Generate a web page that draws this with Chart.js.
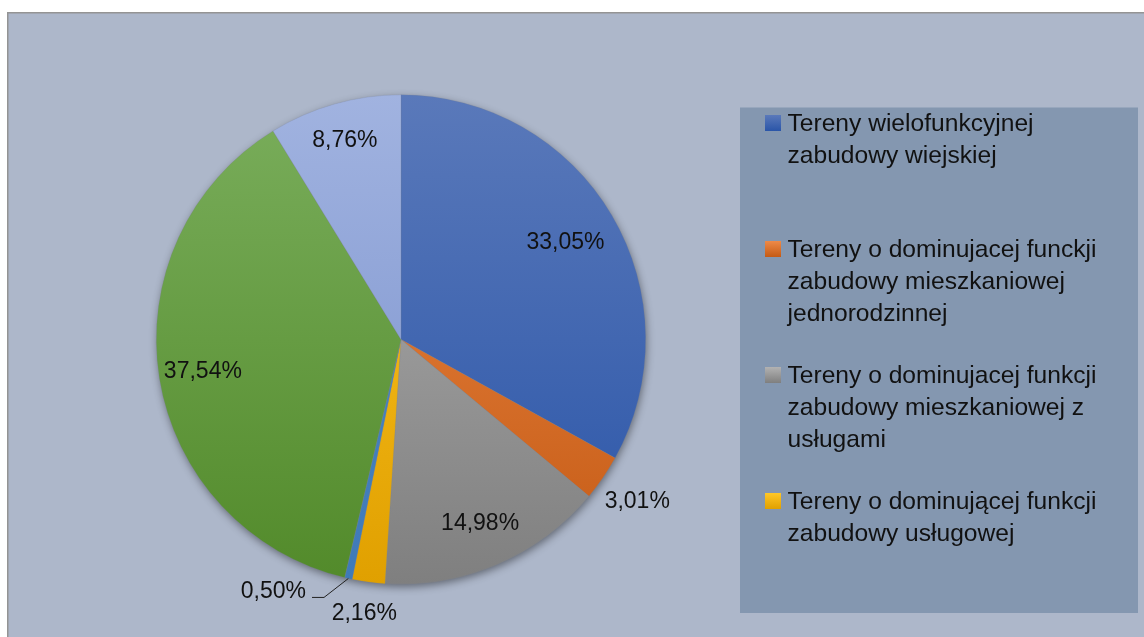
<!DOCTYPE html>
<html>
<head>
<meta charset="utf-8">
<script src="https://cdn.jsdelivr.net/npm/chart.js@4"></script>
<style>
  html, body { margin: 0; padding: 0; background: #ffffff; }
  #c { display: block; }
</style>
</head>
<body>
<canvas id="c" width="1144" height="637"></canvas>
<script>
// ---- data ----
const categories = [
  "Tereny wielofunkcyjnej zabudowy wiejskiej",
  "Tereny o dominujacej funckji zabudowy mieszkaniowej jednorodzinnej",
  "Tereny o dominujacej funkcji zabudowy mieszkaniowej z usługami",
  "Tereny o dominującej funkcji zabudowy usługowej",
  "",
  "",
  ""
];
const values = [33.05, 3.01, 14.98, 2.16, 0.50, 37.54, 8.76];
const valueLabels = ["33,05%", "3,01%", "14,98%", "2,16%", "0,50%", "37,54%", "8,76%"];

// ---- styles ----
const gradTop    = ["#5A79BA", "#EE8A48", "#B2B2B2", "#FFC727", "#4F8AC8", "#7AAE5C", "#A1B3E0"];
const gradBottom = ["#2A55A8", "#C45A14", "#7F7F7F", "#E0A000", "#3F7AB8", "#528A2A", "#7890CC"];
const labelRadius = [0.78, 1.17, 0.82, 1.13, 1.10, 0.82, 0.845];
const labelShiftDeg = [0, 0, 0, 0, 4.2, 0, 0];
const FONT = "Liberation Sans, Arial, sans-serif";

function polar(cx, cy, ang, r) { return [cx + Math.cos(ang) * r, cy + Math.sin(ang) * r]; }

const framePlugin = {
  id: 'frame',
  beforeDraw(chart) {
    const ctx = chart.ctx;
    ctx.save();
    ctx.fillStyle = '#ffffff';
    ctx.fillRect(0, 0, chart.width, chart.height);
    ctx.fillStyle = '#ADB7CA';
    ctx.fillRect(7, 12, chart.width, chart.height);
    ctx.strokeStyle = '#949494';
    ctx.lineWidth = 1.5;
    ctx.beginPath();
    ctx.moveTo(7.75, chart.height);
    ctx.lineTo(7.75, 12.75);
    ctx.lineTo(chart.width, 12.75);
    ctx.stroke();
    ctx.restore();
  },
  beforeDatasetsDraw(chart) {
    const arc = chart.getDatasetMeta(0).data[0];
    if (!arc) return;
    const ctx = chart.ctx;
    ctx.save();
    ctx.shadowColor = 'rgba(0,0,0,0.45)';
    ctx.shadowBlur = 9;
    ctx.shadowOffsetX = 1;
    ctx.shadowOffsetY = 3;
    ctx.fillStyle = '#8a8a8a';
    ctx.beginPath();
    ctx.arc(arc.x, arc.y, arc.outerRadius - 0.5, 0, Math.PI * 2);
    ctx.fill();
    ctx.restore();
  },
  afterDatasetsDraw(chart) {
    const ctx = chart.ctx;
    const meta = chart.getDatasetMeta(0);
    ctx.save();
    ctx.font = '23px ' + FONT;
    ctx.fillStyle = '#111111';
    ctx.textBaseline = 'middle';
    meta.data.forEach((arc, i) => {
      const mid = (arc.startAngle + arc.endAngle) / 2;
      const R = arc.outerRadius;
      if (labelShiftDeg[i]) {
        const [ex, ey] = polar(arc.x, arc.y, mid, R);
        const [bx, by] = polar(arc.x, arc.y, mid + labelShiftDeg[i] * Math.PI / 180, R * labelRadius[i]);
        ctx.strokeStyle = '#222';
        ctx.lineWidth = 1;
        ctx.beginPath();
        ctx.moveTo(ex, ey);
        ctx.lineTo(bx, by);
        ctx.lineTo(bx - 12, by);
        ctx.stroke();
        ctx.textAlign = 'right';
        ctx.fillText(valueLabels[i], bx - 18, by - 6);
      } else {
        const [lx, ly] = polar(arc.x, arc.y, mid, R * labelRadius[i]);
        ctx.textAlign = 'center';
        ctx.fillText(valueLabels[i], lx, ly);
      }
    });
    ctx.restore();
  },
  afterDraw(chart) {
    const ctx = chart.ctx;
    const box = { x: 740, y: 107.5, w: 398, h: 505.5 };
    ctx.save();
    ctx.fillStyle = '#8497B0';
    ctx.fillRect(box.x, box.y, box.w, box.h);
    ctx.font = '24.6px ' + FONT;
    ctx.textBaseline = 'middle';
    ctx.textAlign = 'left';
    const slot = 126, lineH = 32, maxW = 335;
    const textX = box.x + 47.5, swX = box.x + 25;
    for (let i = 0; i < categories.length; i++) {
      const y0 = box.y + 15.5 + i * slot;
      if (y0 > box.y + box.h - 10) break;
      const g = ctx.createLinearGradient(0, y0 - 8, 0, y0 + 8);
      g.addColorStop(0, gradTop[i]);
      g.addColorStop(1, gradBottom[i]);
      ctx.fillStyle = g;
      ctx.fillRect(swX, y0 - 8, 16, 16);
      const words = categories[i].split(' ');
      const lines = [];
      let cur = '';
      words.forEach(w => {
        const t = cur ? cur + ' ' + w : w;
        if (ctx.measureText(t).width > maxW && cur) { lines.push(cur); cur = w; } else cur = t;
      });
      if (cur) lines.push(cur);
      ctx.fillStyle = '#111111';
      lines.forEach((ln, k) => ctx.fillText(ln, textX, y0 + 1 + k * lineH));
    }
    ctx.restore();
  }
};

new Chart(document.getElementById('c'), {
  type: 'pie',
  data: {
    labels: categories,
    datasets: [{
      data: values,
      backgroundColor: (c) => {
        const chart = c.chart;
        const a = chart.chartArea;
        const i = c.dataIndex;
        if (!a) return gradTop[i];
        const g = chart.ctx.createLinearGradient(0, a.top, 0, a.bottom);
        g.addColorStop(0, gradTop[i]);
        g.addColorStop(1, gradBottom[i]);
        return g;
      },
      borderColor: 'rgba(120,130,150,0.35)',
      borderWidth: 0.6
    }]
  },
  options: {
    responsive: false,
    animation: false,
    layout: { padding: { left: 156, top: 94, right: 498, bottom: 52 } },
    plugins: { legend: { display: false }, tooltip: { enabled: false } }
  },
  plugins: [framePlugin]
});
</script>
</body>
</html>
